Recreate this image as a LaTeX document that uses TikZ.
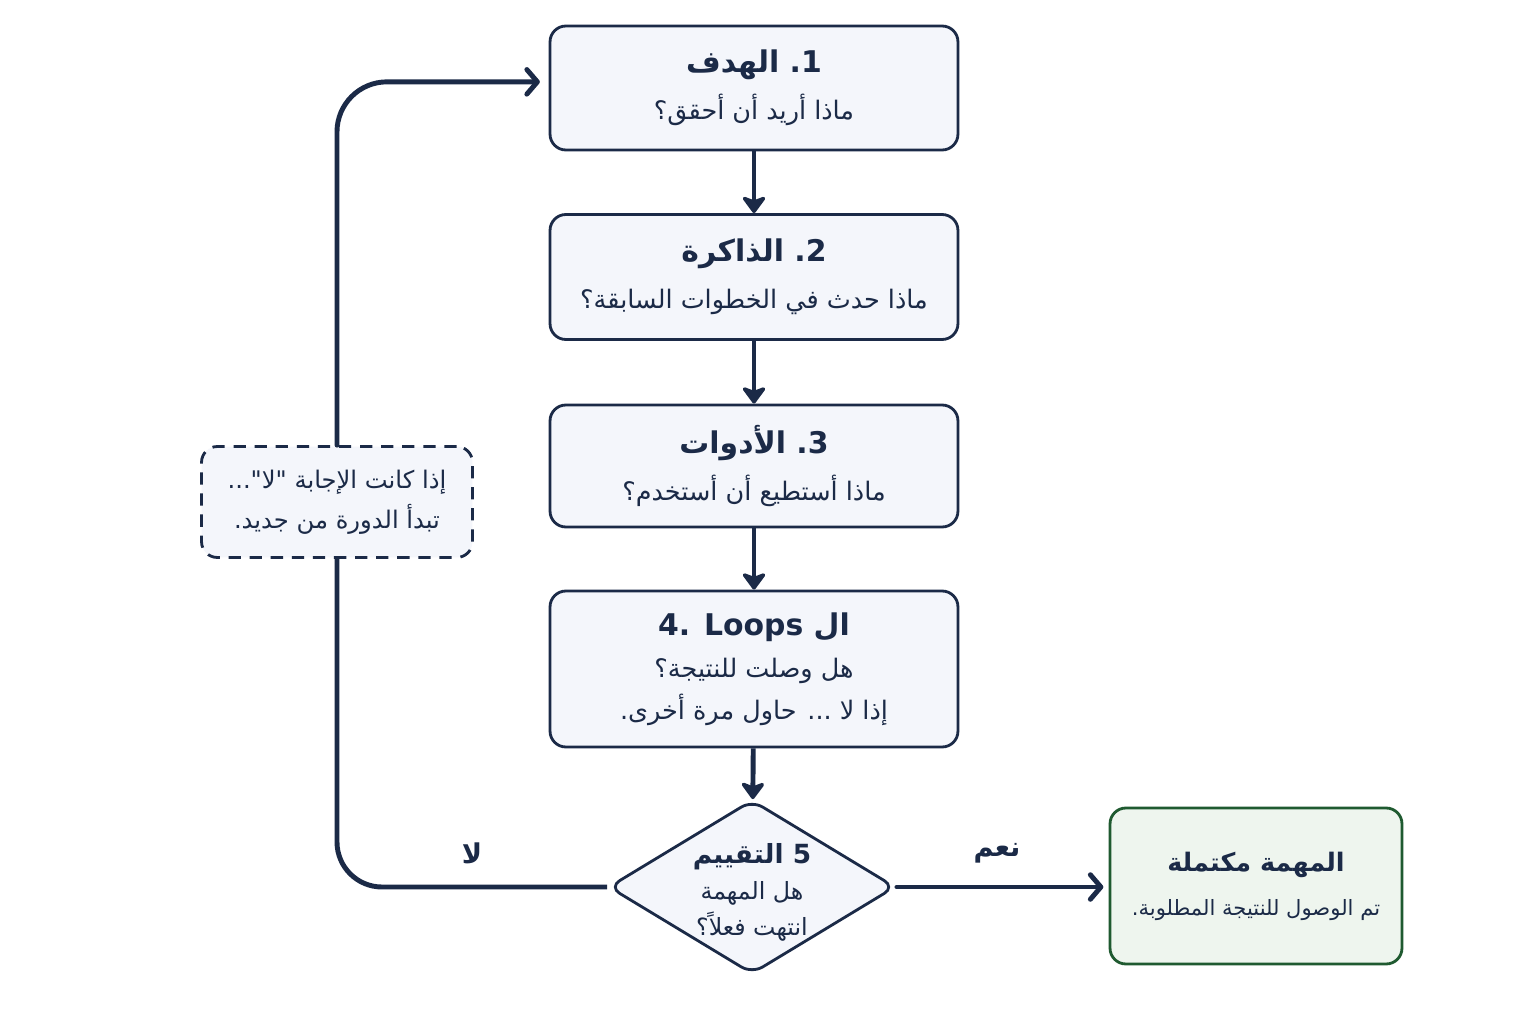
\documentclass[tikz,border=0pt]{standalone}
\usepackage{fontspec}
\setmainfont{DejaVu Sans}
\newfontfamily\arabicfont[Script=Arabic]{DejaVu Sans}
\newfontfamily\latinfont{DejaVu Sans}
\TeXXeTstate=1
\usetikzlibrary{shapes.geometric,arrows.meta}

\definecolor{navy}{HTML}{1B2A47}
\definecolor{boxfill}{HTML}{F4F6FB}
\definecolor{donegreen}{HTML}{1F5A30}
\definecolor{donefill}{HTML}{EEF5EE}

% title line: Arabic word, then the number on its right
\newcommand{\steptitle}[2]{{\fontsize{17}{27}\selectfont\bfseries\beginR #1\endR\ {\latinfont .#2}}}
\newcommand{\stepline}[1]{{\beginR #1\endR}}

\begin{document}
\begin{tikzpicture}[x=0.02cm, y=-0.02cm,
    stepbox/.style={draw=navy, line width=1.6pt, fill=boxfill, rounded corners=9pt,
      minimum width=8.16cm, align=center, text=navy,
      font=\arabicfont\fontsize{14.5}{27}\selectfont},
    flow/.style={navy, line width=2.8pt},
    downtip/.style={-{Stealth[length=11pt, width=16pt, inset=3pt, round]}},
    sidetip/.style={-{Straight Barb[length=6pt, width=14pt, round]}, line cap=round}]

    \fill[white] (0,0) rectangle (1536,1024);
    \useasboundingbox (0,0) rectangle (1536,1024);

    % main steps
    \node[stepbox, minimum height=2.48cm] (goal) at (754,88)
        {\steptitle{الهدف}{1}\\ \stepline{ماذا أريد أن أحقق؟}};
    \node[stepbox, minimum height=2.5cm] (memory) at (754,277)
        {\steptitle{الذاكرة}{2}\\ \stepline{ماذا حدث في الخطوات السابقة؟}};
    \node[stepbox, minimum height=2.44cm] (tools) at (754,466)
        {\steptitle{الأدوات}{3}\\ \stepline{ماذا أستطيع أن أستخدم؟}};
    \node[stepbox, minimum height=3.12cm, font=\arabicfont\fontsize{14.5}{24}\selectfont] (loops) at (754,669)
        {{\fontsize{17}{24}\selectfont\bfseries{\latinfont 4. Loops}\ \beginR ال\endR}\\
         \stepline{هل وصلت للنتيجة؟}\\
         \stepline{إذا لا ... حاول مرة أخرى.}};

    % evaluation
    \node[diamond, draw=navy, line width=1.6pt, fill=boxfill, rounded corners=7pt,
        minimum width=5.74cm, minimum height=3.48cm, inner sep=0pt] (eval) at (752,887) {};
    \node[align=center, text=navy, font=\arabicfont\fontsize{13.5}{20.5}\selectfont] (evaltext) at (752,892)
        {{\fontsize{15}{20.5}\selectfont\bfseries\beginR 5 التقييم\endR}\\
         \stepline{هل المهمة}\\
         \stepline{انتهت فعلاً؟}};

    % result
    \node[draw=donegreen, line width=1.6pt, fill=donefill, rounded corners=9pt,
        minimum width=5.84cm, minimum height=3.12cm, align=center, text=navy,
        font=\arabicfont\fontsize{12}{25}\selectfont] (done) at (1256,886)
        {{\fontsize{14.5}{25}\selectfont\bfseries\beginR المهمة مكتملة\endR}\\
         \stepline{تم الوصول للنتيجة المطلوبة.}};

    % restart note
    \node[draw=navy, line width=1.6pt, dashed, dash pattern=on 7pt off 5pt, fill=boxfill,
        rounded corners=9pt, minimum width=5.42cm, minimum height=2.22cm, align=center,
        text=navy, font=\arabicfont\fontsize{13.8}{23}\selectfont] (retry) at (337,502)
        {\stepline{إذا كانت الإجابة "لا"...}\\
         \stepline{تبدأ الدورة من جديد.}};

    % connectors
    \draw[flow, downtip] (goal) -- (memory);
    \draw[flow, downtip] (memory) -- (tools);
    \draw[flow, downtip] (tools) -- (loops);
    \draw[flow, downtip] (loops) -- (eval);
    \draw[flow, sidetip] (eval.east) -- ([xshift=-3pt]eval.east -| done.west);
    \draw[flow, rounded corners=0.9cm] (eval.west) -| (retry.south);
    \draw[flow, sidetip, rounded corners=1cm] (retry.north) |- ([xshift=-5pt, yshift=3.5pt]goal.west);

    \node[font=\arabicfont\bfseries\fontsize{15.5}{18}\selectfont, text=navy] (nolabel) at (472,853) {لا};
    \node[font=\arabicfont\bfseries\fontsize{15.5}{18}\selectfont, text=navy] (yeslabel) at (997,853) {نعم};
\end{tikzpicture}
\end{document}
